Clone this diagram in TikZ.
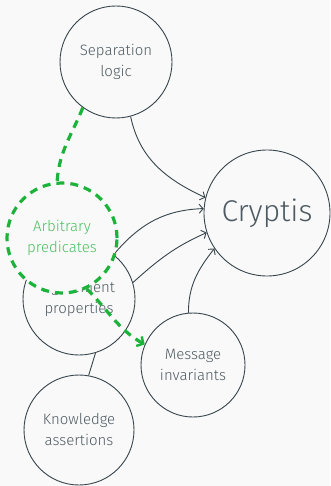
\documentclass[tikz,border=0pt]{standalone}
\usepackage{fontspec}
\setmainfont{Fira Sans}[UprightFont=* Light]
\usetikzlibrary{arrows.meta}
\definecolor{bgc}{HTML}{F9F9F9}
\definecolor{ink}{HTML}{37444B}
\definecolor{txt}{HTML}{4E5B62}
\definecolor{grn}{HTML}{1DB33B}
\definecolor{grntxt}{HTML}{4CC060}
\tikzset{
  topic/.style={circle, draw=ink, line width=0.9pt, fill=bgc, text=txt,
    align=center, inner sep=0pt, font=\fontsize{15}{21}\selectfont},
  link/.style={draw=ink, line width=0.9pt,
    -{Straight Barb[length=4pt,width=9pt,line width=0.9pt]}},
  plain/.style={draw=ink, line width=0.9pt},
  extra/.style={draw=grn, line width=3.2pt, dash pattern=on 8pt off 6pt},
  extraarrow/.style={extra, -{Straight Barb[length=5pt,width=11pt,line width=2.4pt]}}
}
\begin{document}
\begin{tikzpicture}[x=1pt, y=-1pt]
  \fill[bgc] (0,0) rectangle (330,486);
  \useasboundingbox (0,0) rectangle (330,486);

  % main topics
  \node[topic, minimum size=112pt] (sep) at (116,62) {Separation\\logic};
  \node[topic, minimum size=126pt, font=\fontsize{30}{36}\selectfont] (cry) at (267,213) {Cryptis};
  \node[topic, minimum size=112pt] (agr) at (79,299) {Agreement\\properties};
  \node[topic, minimum size=104pt] (msg) at (193,365) {Message\\invariants};
  \node[topic, minimum size=110pt] (kno) at (79,430) {Knowledge\\assertions};

  % dependencies
  \draw[link] (sep.-75) to[out=-78, in=155] (cry.166);
  \draw[link] (agr.52) to[out=50, in=182] (cry.176);
  \draw[link] (agr.17) to[out=42, in=204] (cry.198);
  \draw[link] (msg.95) to[out=90, in=232] (cry.214);
  \draw[plain] (kno.80) -- (agr.-73);

  % extension node, laid over the agreement properties
  \node[topic, minimum size=110pt, draw=grn, line width=3.2pt,
        dash pattern=on 8pt off 6pt, text=grntxt] (arb) at (62,238)
        {Arbitrary\\predicates};
  \draw[extra] (sep.-126) to[out=-112, in=86] (arb.95);
  \draw[extraarrow] (arb.-64) to[out=-45, in=150] (msg.157);
\end{tikzpicture}
\end{document}
